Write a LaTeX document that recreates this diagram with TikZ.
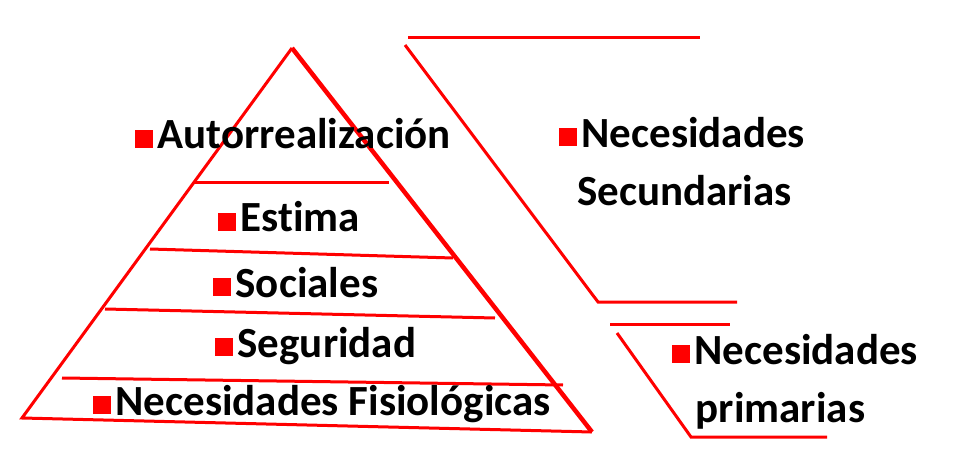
\documentclass[tikz,border=0pt]{standalone}
\usepackage{fontspec}
\setmainfont{Carlito}[Ligatures=NoCommon]
\newcommand{\bul}{\textcolor{red}{\rule[0.02em]{0.42em}{0.42em}}\hspace{0.1em}}
\begin{document}
\begin{tikzpicture}[
	x=1pt, y=-1pt,
	lab/.style = {anchor=base west, inner sep=0pt, font=\fontsize{43}{58}\selectfont\bfseries, align=left},
	side/.style = {draw=red, line width=3pt},
	thick side/.style = {draw=red, line width=4.5pt},
	]
	\useasboundingbox (0,0) rectangle (962,476);
	% pyramid
	\coordinate (apex) at (292,48);
	\coordinate (bl) at (22,418);
	\coordinate (br) at (592,432);
	\draw[side] (apex) -- (bl) -- (br);
	\draw[thick side] (apex) -- (br);
	\draw[side] (195,183) -- (389,183);
	\draw[side] (150,249) -- (453,258);
	\draw[side] (105,309) -- (495,318);
	\draw[side] (62,378) -- (563,385);
	\node[lab] (autorr) at (135,149) {\bul Autorrealización};
	\node[lab] (estima) at (218,232) {\bul Estima};
	\node[lab] (sociales) at (213,297) {\bul Sociales};
	\node[lab] (seguridad) at (215,357) {\bul Seguridad};
	\node[lab] (fisio) at (93,415) {\bul Necesidades Fisiológicas};
	% brackets
	\draw[side] (408,38) -- (700,38);
	\draw[side] (405,45) -- (598,302) -- (737,302);
	\draw[side] (610,324) -- (730,324);
	\draw[side] (617,333) -- (691,437) -- (827,437);
	\node[lab] (secund) at (559,205) {\bul Necesidades\\\hspace{0.42em}Secundarias};
	\node[lab] (prim) at (672,422) {\bul Necesidades\\\hspace{0.55em}primarias};
\end{tikzpicture}
\end{document}
